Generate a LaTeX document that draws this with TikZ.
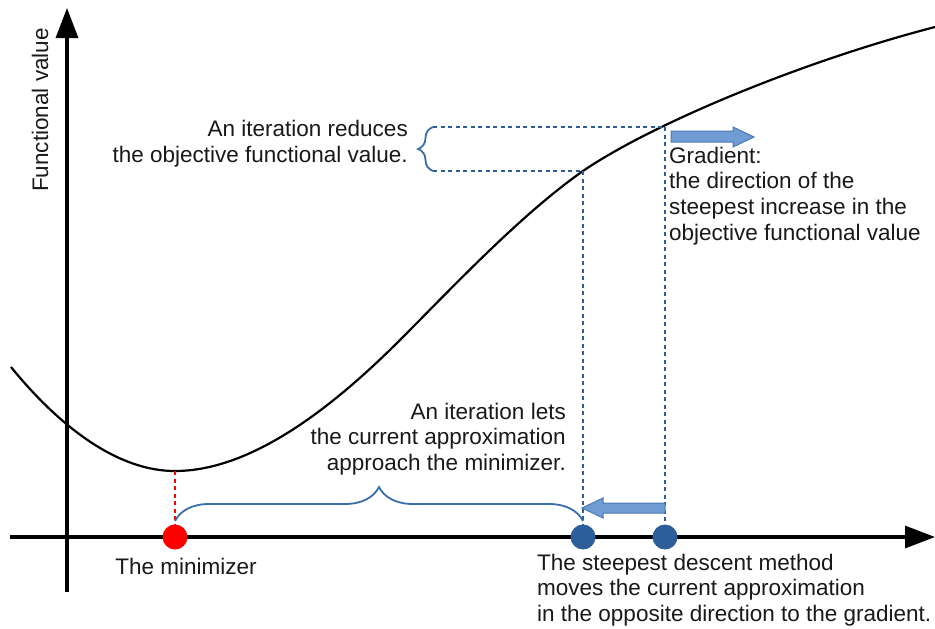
\documentclass[tikz,border=0pt]{standalone}
\usepackage{fontspec}
\setmainfont{Liberation Sans}
\usetikzlibrary{decorations.pathreplacing,arrows.meta}
\definecolor{dblue}{HTML}{2E5E9A}
\definecolor{bblue}{HTML}{3A6EA8}
\definecolor{afill}{HTML}{6F9CD2}
\definecolor{aedge}{HTML}{4A79B5}
\begin{document}
\begin{tikzpicture}[x=1pt,y=-1pt,
  lbl/.style={inner sep=0pt, text=black!90, font=\fontsize{22.5}{25.8}\selectfont},
  axis/.style={line width=3.2pt, -{Triangle[length=30pt,width=22pt]}},
  guide/.style={dblue, line width=1.8pt, dash pattern=on 4pt off 3.5pt},
  redguide/.style={red, line width=1.8pt, dash pattern=on 4pt off 3.5pt},
  bracelike/.style={bblue, line width=1.8pt, decorate},
  dot/.style={circle, inner sep=0pt, minimum size=25pt},
  blockarrow/.style={fill=afill, draw=aedge, line width=1pt}]
\useasboundingbox (0,0) rectangle (935,629);
% axes
\coordinate (xs) at (10,537);
\coordinate (xe) at (935,537);
\coordinate (ys) at (67,592);
\coordinate (ye) at (67,8);
\draw[axis] (xs) -- (xe);
\draw[axis] (ys) -- (ye);
% key points
\coordinate (cs) at (11,367);
\coordinate (cm) at (175,471);
\coordinate (ci) at (400,340);
\coordinate (c1) at (583,171);
\coordinate (c0) at (665,127);
\coordinate (ce) at (935,27);
\coordinate (b1) at (433,171);
\coordinate (b0) at (433,127);
\coordinate (l1) at (175,521);
\coordinate (l2) at (583,521);
% curve
\draw[line width=2.2pt] (cs) .. controls (50,415) and (110,471) .. (cm)
  .. controls (250,471) and (330,410) .. (ci)
  .. controls (450,290) and (520,215) .. (c1)
  .. controls (650,125) and (800,62) .. (ce);
% dots
\node[dot, fill=red] (mn) at (175,537) {};
\node[dot, fill=dblue] (p1) at (583,537) {};
\node[dot, fill=dblue] (p0) at (665,537) {};
% guides
\draw[guide] (b1) -- (c1);
\draw[guide] (b0) -- (c0);
\draw[guide] (c1) -- (p1.north);
\draw[guide] (c0) -- (p0.north);
\draw[redguide] (cm) -- (mn.north);
% braces
\draw[bracelike, decoration={brace, amplitude=15pt}] (b1) -- (b0);
\draw[bracelike, decoration={brace, amplitude=34pt}] (l1) -- (l2);
% block arrows
\draw[blockarrow] (671,131) -- (733,131) -- (733,127) -- (754,137) -- (733,147) -- (733,142) -- (671,142) -- cycle;
\draw[blockarrow] (665,503) -- (603,503) -- (603,498) -- (582,508) -- (603,518) -- (603,513) -- (665,513) -- cycle;
% labels
\node[lbl, rotate=90] (yl) at (40,110) {Functional value};
\node[lbl, align=right, anchor=east] (t1) at (408,144) {An iteration reduces\\the objective functional value.};
\node[lbl, align=left, anchor=west] (t2) at (669,196) {Gradient:\\the direction of the\\steepest increase in the\\objective functional value};
\node[lbl, align=right, anchor=east] (t3) at (566,439) {An iteration lets\\the current approximation\\approach the minimizer.};
\node[lbl] (t4) at (186,566) {The minimizer};
\node[lbl, align=left, anchor=west] (t5) at (537,590) {The steepest descent method\\moves the current approximation\\in the opposite direction to the gradient.};
\end{tikzpicture}
\end{document}
